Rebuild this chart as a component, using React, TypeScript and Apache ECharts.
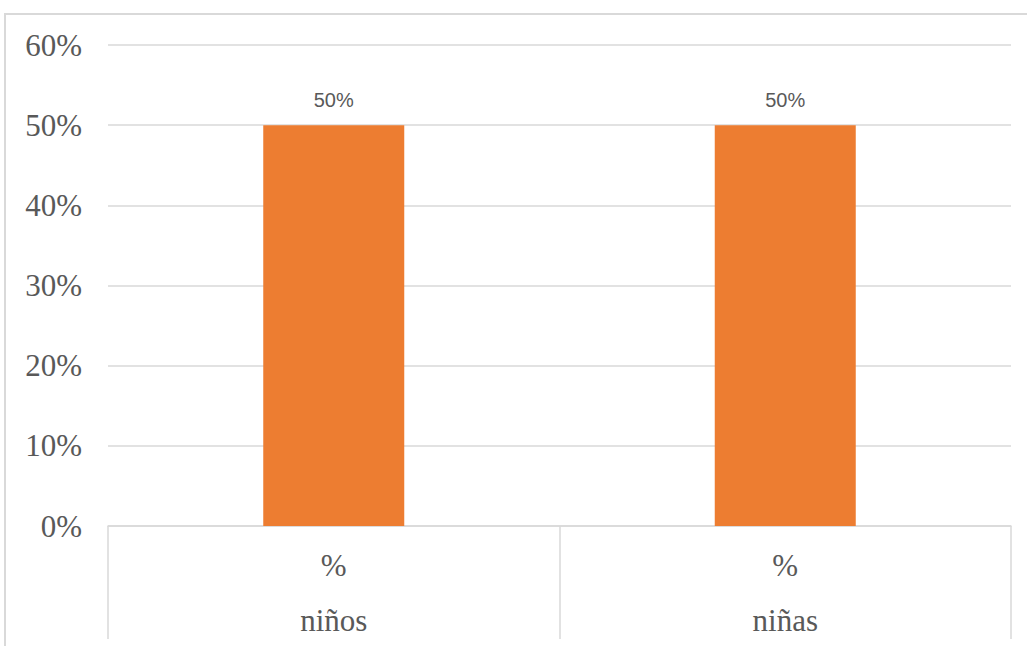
import React, { useEffect, useRef } from "react";
import * as echarts from "echarts";

const categories = ["niños", "niñas"];
const groupLabel = "%";
const values = [0.5, 0.5];
const yTicks = [0, 0.1, 0.2, 0.3, 0.4, 0.5, 0.6];

export default function App() {
  const ref = useRef<HTMLDivElement>(null);
  useEffect(() => {
    document.body.style.margin = "0";
    const chart = echarts.init(ref.current!, undefined, { renderer: "svg" });
    const serif = "'Liberation Serif', 'Times New Roman', serif";
    chart.setOption({
      animation: false,
      backgroundColor: "#ffffff",
      grid: { left: 108, right: 16, top: 45, bottom: 120, containLabel: false },
      graphic: [
        {
          type: "rect",
          shape: { x: 5, y: 14, width: 1040, height: 660 },
          style: { fill: "none", stroke: "#d9d9d9", lineWidth: 2 },
          silent: true,
        },
      ],
      xAxis: {
        type: "category",
        data: categories,
        axisLine: { show: true, lineStyle: { color: "#d9d9d9", width: 1.5 } },
        axisTick: {
          show: true,
          length: 113,
          alignWithLabel: false,
          lineStyle: { color: "#d9d9d9", width: 1.5 },
        },
        axisLabel: {
          margin: 12,
          formatter: (v: string) => `{a|${groupLabel}}\n{b|${v}}`,
          rich: {
            a: { fontFamily: serif, fontSize: 31, color: "#595959", lineHeight: 55 },
            b: { fontFamily: serif, fontSize: 31, color: "#595959", lineHeight: 55 },
          },
        },
      },
      yAxis: {
        type: "value",
        min: yTicks[0],
        max: yTicks[yTicks.length - 1],
        interval: 0.1,
        axisLine: { show: false },
        axisTick: { show: false },
        axisLabel: {
          margin: 26,
          fontFamily: serif,
          fontSize: 31,
          color: "#595959",
          formatter: (v: number) => `${Math.round(v * 100)}%`,
        },
        splitLine: { lineStyle: { color: "#d9d9d9", width: 1.5 } },
      },
      series: [
        {
          type: "bar",
          data: values,
          barWidth: 141,
          itemStyle: { color: "#ED7D31" },
          label: {
            show: true,
            position: "top",
            distance: 15,
            fontFamily: "'Liberation Sans', Arial, sans-serif",
            fontSize: 20,
            color: "#595959",
            formatter: (p: any) => `${Math.round(p.value * 100)}%`,
          },
        },
      ],
    });
    return () => chart.dispose();
  }, []);
  return (
    <div
      ref={ref}
      style={{ position: "fixed", left: 0, top: 0, width: 1027, height: 646 }}
    />
  );
}
